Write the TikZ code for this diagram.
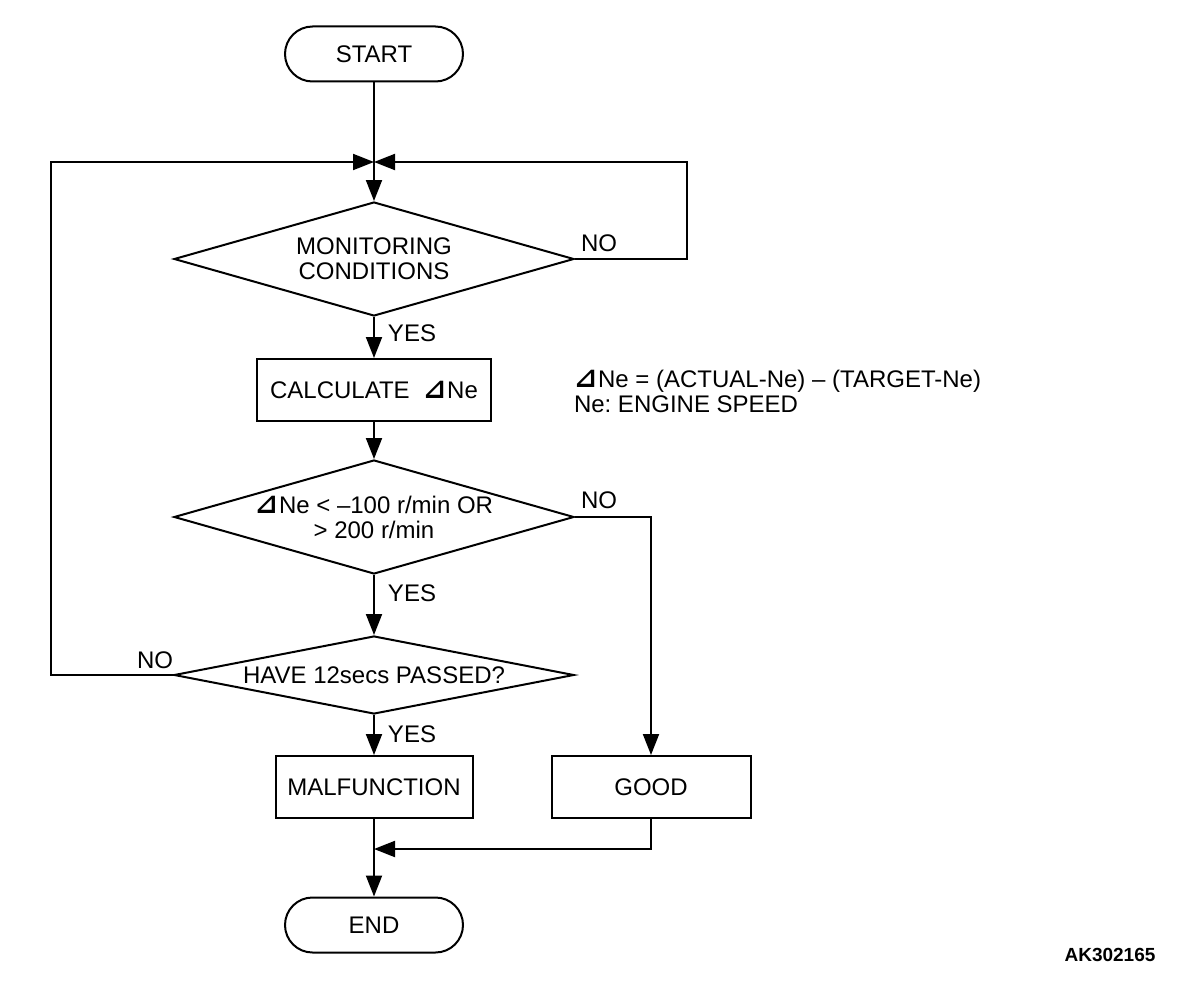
\documentclass[tikz,border=0pt]{standalone}
\usepackage{fontspec}
\usepackage{graphicx}
\setmainfont{Liberation Sans}
\newfontfamily\symfont{DejaVu Sans}
\usetikzlibrary{shapes.geometric,arrows.meta,positioning}
\newcommand{\deltaNe}{{\symfont\bfseries\scalebox{1.15}{⊿}}\kern1pt Ne}
\frenchspacing

\begin{document}
\begin{tikzpicture}
[x=1pt,y=-1pt,line width=2pt,%
  every node/.style={font=\fontsize{24}{25}\selectfont,align=center},%
  terminal/.style={draw,rounded corners=27.5pt,minimum width=178pt,minimum height=55pt},%
  process/.style={draw,minimum height=62pt,inner sep=0pt},%
  decision/.style={draw,diamond,inner sep=0pt,minimum width=400pt},%
  answer/.style={inner sep=0pt},%
  >={Triangle[length=21pt,width=16pt]}]
\useasboundingbox (0,0) rectangle (1200,982);
%% boxes
\node[terminal] (start) at (374,54) {START};
\coordinate (join) at (374,162);
\node[decision,minimum height=114pt,aspect=3.5] (monitor) at (374,259) {MONITORING\\CONDITIONS};
\node[process,minimum width=234pt] (calc) at (374,390) {CALCULATE\ \ \deltaNe};
\node[decision,minimum height=114pt,aspect=3.5] (check) at (374,517) {\deltaNe{} < –100 r/min OR\\> 200 r/min};
\node[decision,minimum height=78pt,aspect=5.1] (timer) at (374,675) {HAVE 12secs PASSED?};
\node[process,minimum width=197pt] (fail) at (374,787) {MALFUNCTION};
\node[process,minimum width=199pt] (good) at (651,787) {GOOD};
\coordinate (merge) at (374,849);
\node[terminal] (end) at (374,925) {END};
%% answers
\node[answer] at (412,333) {YES};
\node[answer] at (412,593) {YES};
\node[answer] at (412,734) {YES};
\node[answer] at (599,243) {NO};
\node[answer] at (599,500) {NO};
\node[answer] at (155,660) {NO};
%% note
\node[answer,anchor=north west,align=left] (note) at (573,369)
  {\deltaNe{} = (ACTUAL-Ne) – (TARGET-Ne)\\Ne: ENGINE SPEED};
\node[answer,font=\bfseries\fontsize{19}{20}\selectfont] (code) at (1110,955) {AK302165};
%% flow
\draw (start) -- (join);
\draw[->] (monitor.east) -- ++(112,0) |- (join);
\draw[->] (timer.west) -- ++(-122,0) |- (join);
\draw[->] (good.south) |- (merge);
\draw[->] (check.east) -| (good.north);
\path
\foreach \startNode/\endNode in {join/monitor, monitor/calc, calc/check, check/timer, timer/fail, fail/end}
{
  (\startNode) edge[->] (\endNode)
};
\end{tikzpicture}
\end{document}
